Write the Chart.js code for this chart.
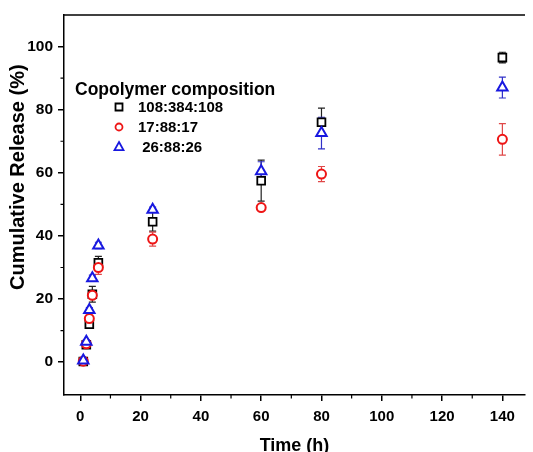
<!DOCTYPE html>
<html>
<head>
<meta charset="utf-8">
<script src="https://cdn.jsdelivr.net/npm/chart.js@4.4.1/dist/chart.umd.min.js"></script>
<style>
  html, body { margin: 0; padding: 0; background: #fff; overflow: hidden; }
  #wrap { width: 533px; height: 452px; }
</style>
</head>
<body>
<div id="wrap"><canvas id="releaseChart" width="533" height="452"></canvas></div>
<script>
// time points (h)
const times = [1, 2, 3, 4, 6, 24, 60, 80, 140];

// cumulative release (%) per copolymer composition
const rel108 = [0.2, 5.5, 12, 21.5, 31.5, 44.5, 57.5, 76, 96.5];
const rel17 = [0.3, 5.8, 13.8, 21.2, 30, 39, 49, 59.6, 70.6];
const rel26 = [0.5, 6.5, 16.5, 26.6, 37, 48.3, 60.5, 72.6, 87];

// standard deviations
const err108 = [0.3, 0.8, 1, 2.5, 2, 3, 6.5, 4.5, 1.7];
const err17 = [0.3, 0.5, 1, 1, 2.2, 2.2, 0.8, 2.4, 5];
const err26 = [0.3, 0.5, 0.8, 1, 1, 0.8, 3, 5, 3.3];

const seriesNames = ["108:384:108", "17:88:17", " 26:88:26"];
const xTicks = [0, 20, 40, 60, 80, 100, 120, 140];
const xMinor = [10, 30, 50, 70, 90, 110, 130];
const yTicks = [0, 20, 40, 60, 80, 100];
const yMinor = [10, 30, 50, 70, 90];

const FONT = "'Liberation Sans', Arial, sans-serif";
const BLACK = "#000000";
const RED = "#ee1515";
const BLUE = "#1818e0";

const toPoints = (vals) => times.map((t, i) => ({ x: t, y: vals[i] }));

// error bars, drawn under the markers
const errorBars = {
  id: "errorBars",
  beforeDatasetsDraw(chart) {
    const { ctx, scales: { x, y } } = chart;
    ctx.save();
    chart.data.datasets.forEach((ds) => {
      ctx.strokeStyle = ds.errColor;
      ctx.lineWidth = 1.2;
      ds.data.forEach((p, j) => {
        const e = ds.errors[j];
        const px = x.getPixelForValue(p.x);
        const top = y.getPixelForValue(p.y + e);
        const bot = y.getPixelForValue(p.y - e);
        ctx.beginPath();
        ctx.moveTo(px, top); ctx.lineTo(px, bot);
        ctx.moveTo(px - 3.5, top); ctx.lineTo(px + 3.5, top);
        ctx.moveTo(px - 3.5, bot); ctx.lineTo(px + 3.5, bot);
        ctx.stroke();
      });
    });
    ctx.restore();
  }
};

// top frame line and minor ticks
const frame = {
  id: "frame",
  afterDraw(chart) {
    const { ctx, chartArea: a, scales: { x, y } } = chart;
    ctx.save();
    ctx.strokeStyle = BLACK;
    ctx.lineWidth = 1.5;
    ctx.beginPath();
    ctx.moveTo(a.left, a.top);
    ctx.lineTo(a.right, a.top);
    ctx.stroke();
    ctx.lineWidth = 1.2;
    ctx.beginPath();
    xMinor.forEach(v => {
      const px = x.getPixelForValue(v);
      ctx.moveTo(px, a.bottom); ctx.lineTo(px, a.bottom + 3.5);
    });
    yMinor.forEach(v => {
      const py = y.getPixelForValue(v);
      ctx.moveTo(a.left, py); ctx.lineTo(a.left - 3.5, py);
    });
    ctx.stroke();
    ctx.restore();
  }
};

function drawMarker(ctx, style, cx, cy, r) {
  ctx.beginPath();
  if (style === "rect") {
    ctx.rect(cx - r, cy - r, 2 * r, 2 * r);
  } else if (style === "circle") {
    ctx.arc(cx, cy, r, 0, Math.PI * 2);
  } else {
    ctx.moveTo(cx, cy - r * 1.1);
    ctx.lineTo(cx + r, cy + r * 0.7);
    ctx.lineTo(cx - r, cy + r * 0.7);
    ctx.closePath();
  }
  ctx.fill();
  ctx.stroke();
}

// legend box inside the plot
const innerLegend = {
  id: "innerLegend",
  afterDraw(chart) {
    const { ctx } = chart;
    ctx.save();
    ctx.fillStyle = BLACK;
    ctx.textBaseline = "middle";
    ctx.textAlign = "left";
    ctx.font = "bold 17.5px " + FONT;
    ctx.fillText("Copolymer composition", 75, 90);
    ctx.font = "bold 15px " + FONT;
    chart.data.datasets.forEach((ds, i) => {
      const yy = 107 + i * 20;
      ctx.strokeStyle = ds.borderColor;
      ctx.fillStyle = "#fff";
      ctx.lineWidth = 1.8;
      drawMarker(ctx, ds.pointStyle, 119, yy, ds.pointStyle === "triangle" ? 4.5 : 3.5);
      ctx.fillStyle = BLACK;
      ctx.fillText(seriesNames[i], 138, yy + 1);
    });
    ctx.restore();
  }
};

new Chart(document.getElementById("releaseChart").getContext("2d"), {
  type: "scatter",
  data: {
    datasets: [
      {
        label: seriesNames[0],
        data: toPoints(rel108),
        errors: err108,
        errColor: "#222222",
        pointStyle: "rect",
        pointRadius: 5.5,
        borderColor: BLACK,
        backgroundColor: "#fff",
        borderWidth: 1.8,
        order: 3
      },
      {
        label: seriesNames[1],
        data: toPoints(rel17),
        errors: err17,
        errColor: "#e04848",
        pointStyle: "circle",
        pointRadius: 4.5,
        borderColor: RED,
        backgroundColor: "#fff",
        borderWidth: 2,
        order: 2
      },
      {
        label: seriesNames[2],
        data: toPoints(rel26),
        errors: err26,
        errColor: "#3030c8",
        pointStyle: "triangle",
        pointRadius: 6,
        borderColor: BLUE,
        backgroundColor: "#fff",
        borderWidth: 2,
        order: 1
      }
    ]
  },
  options: {
    responsive: false,
    animation: false,
    events: [],
    devicePixelRatio: 1,
    layout: { padding: { left: 0, right: 0, top: 15, bottom: 0 } },
    plugins: {
      legend: { display: false },
      tooltip: { enabled: false }
    },
    scales: {
      x: {
        type: "linear",
        min: -5.4,
        max: 147.5,
        afterBuildTicks: s => { s.ticks = xTicks.map(v => ({ value: v })); },
        afterFit: s => { s.height = 57; },
        ticks: {
          autoSkip: false,
          maxRotation: 0,
          color: BLACK,
          padding: 7,
          font: { family: FONT, size: 15, weight: "bold" }
        },
        grid: { drawOnChartArea: false, drawTicks: true, tickLength: 6, color: BLACK, lineWidth: 1.5 },
        border: { display: true, color: BLACK, width: 1.5 },
        title: {
          display: true,
          text: "Time (h)",
          color: BLACK,
          font: { family: FONT, size: 18, weight: "bold" },
          padding: { top: 0, bottom: -5 }
        }
      },
      y: {
        type: "linear",
        min: -10.4,
        max: 110,
        afterBuildTicks: s => { s.ticks = yTicks.map(v => ({ value: v })); },
        afterFit: s => { s.width = 64; },
        ticks: {
          color: BLACK,
          padding: 5,
          font: { family: FONT, size: 15.5, weight: "bold" }
        },
        grid: { drawOnChartArea: false, drawTicks: true, tickLength: 6, color: BLACK, lineWidth: 1.5 },
        border: { display: true, color: BLACK, width: 1.5 },
        title: {
          display: true,
          // leading spaces lift the rotated title toward the top, as in the figure
          text: "          Cumulative Release (%)",
          color: BLACK,
          font: { family: FONT, size: 20, weight: "bold" },
          padding: { top: 6, bottom: 0 }
        }
      }
    }
  },
  plugins: [errorBars, frame, innerLegend]
});
</script>
</body>
</html>
